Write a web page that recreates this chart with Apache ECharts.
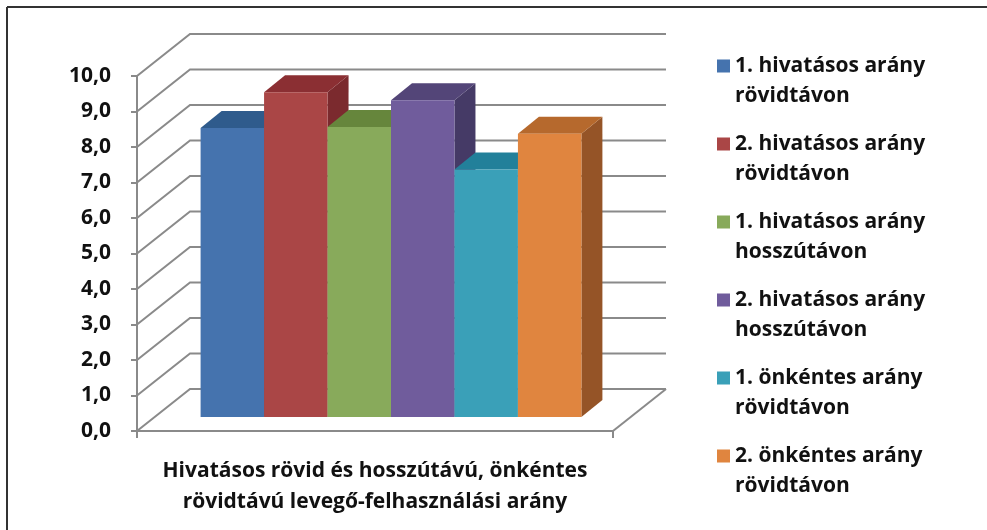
<!DOCTYPE html>
<html>
<head>
<meta charset="utf-8">
<script src="https://cdn.jsdelivr.net/npm/echarts@6/dist/echarts.min.js"></script>
<style>
html,body{margin:0;padding:0;background:#fff;}
#chart{width:987px;height:530px;}
</style>
</head>
<body>
<div id="chart"></div>
<script>
// ---- data ----
const category = ['Hivatásos rövid és hosszútávú, önkéntes\nrövidtávú levegő-felhasználási arány'];
const seriesNames = [
  '1. hivatásos arány rövidtávon',
  '2. hivatásos arány rövidtávon',
  '1. hivatásos arány hosszútávon',
  '2. hivatásos arány hosszútávon',
  '1. önkéntes arány rövidtávon',
  '2. önkéntes arány rövidtávon'
];
const seriesValues = [8.14, 9.15, 8.17, 8.92, 6.97, 7.98];
const yTicks = [0, 1, 2, 3, 4, 5, 6, 7, 8, 9, 10];

// ---- styles ----
const frontColors = ['#4573ae', '#aa4646', '#88aa5b', '#705c9c', '#3aa0b8', '#e0853f'];
const topColors   = ['#2f5b8c', '#8b2f33', '#66863c', '#534578', '#22809a', '#b6692d'];
const sideColors  = ['#2b4f7a', '#7b2a2e', '#5a7634', '#453a66', '#1f6f85', '#955427'];
const FONT = '"Open Sans"';
const GRIDCOL = '#8a8a8a';
const WALL_DX = 53, WALL_DY = -42;   // depth of the wall
const BAR_FX = 16, BAR_FY = -14;     // bars' front plane offset
const BAR_DX = 21, BAR_DY = -17;     // bars' depth
const GROUP_RATIO = 0.8;
// legend marker: 13px square at the top of a 13x43 box (aligns with first text line)
const LEGEND_ICON = 'path://M0,0L13,0L13,13L0,13Z M0,43L0.01,43';

const chart = echarts.init(document.getElementById('chart'), null, {renderer: 'canvas'});

function wallRender(params, api) {
  const v = api.value(1);
  const p = api.coord([0, v]);
  const xL = params.coordSys.x;
  const xR = xL + params.coordSys.width;
  const children = [{
    type: 'polyline',
    shape: {points: [[xL, p[1]], [xL + WALL_DX, p[1] + WALL_DY], [xR + WALL_DX, p[1] + WALL_DY]]},
    style: {stroke: GRIDCOL, lineWidth: 2, fill: null}
  }];
  if (v === yTicks[0]) {
    children.push({
      type: 'line',
      shape: {x1: xR, y1: p[1], x2: xR + WALL_DX, y2: p[1] + WALL_DY},
      style: {stroke: GRIDCOL, lineWidth: 2}
    });
  }
  return {type: 'group', children: children};
}

function barRender(idx) {
  return function (params, api) {
    const band = api.size([1, 0])[0];
    const base = api.coord([api.value(0), 0]);
    const topP = api.coord([api.value(0), api.value(1)]);
    const groupW = band * GROUP_RATIO;
    const w = groupW / seriesValues.length;
    const x0 = base[0] - groupW / 2 + idx * w + BAR_FX;
    const yb = base[1] + BAR_FY;
    const yt = topP[1] + BAR_FY;
    return {
      type: 'group',
      children: [
        {type: 'polygon', shape: {points: [[x0 + w, yt], [x0 + w + BAR_DX, yt + BAR_DY], [x0 + w + BAR_DX, yb + BAR_DY], [x0 + w, yb]]},
         style: {fill: sideColors[idx]}},
        {type: 'polygon', shape: {points: [[x0, yt], [x0 + BAR_DX, yt + BAR_DY], [x0 + w + BAR_DX, yt + BAR_DY], [x0 + w, yt]]},
         style: {fill: topColors[idx]}},
        {type: 'rect', shape: {x: x0, y: yt, width: w, height: yb - yt},
         style: {fill: frontColors[idx]}}
      ]
    };
  };
}

const series = [{
  type: 'custom',
  name: '_wall',
  silent: true,
  renderItem: wallRender,
  data: yTicks.map(v => [0, v]),
  z: 1
}];
seriesNames.forEach((name, i) => {
  series.push({
    type: 'custom',
    name: name,
    renderItem: barRender(i),
    itemStyle: {color: frontColors[i]},
    data: [[0, seriesValues[i]]],
    z: 2
  });
});

chart.setOption({
  backgroundColor: '#ffffff',
  animation: false,
  grid: {left: 137, top: 76, width: 476, height: 355},
  xAxis: {
    type: 'category',
    data: category,
    axisLine: {show: true, lineStyle: {color: GRIDCOL, width: 2}},
    axisTick: {show: true, length: 7, lineStyle: {color: GRIDCOL, width: 2}},
    axisLabel: {
      color: '#111', fontFamily: FONT, fontWeight: 'bold', fontSize: 21,
      lineHeight: 31, margin: 25, interval: 0
    },
    splitLine: {show: false}
  },
  yAxis: {
    type: 'value', min: 0, max: 10, interval: 1,
    axisLine: {show: true, lineStyle: {color: GRIDCOL, width: 2}},
    axisTick: {show: true, length: 6, lineStyle: {color: GRIDCOL, width: 2}},
    axisLabel: {
      color: '#111', fontFamily: FONT, fontWeight: 'bold', fontSize: 21, margin: 26,
      formatter: v => v.toFixed(1).replace('.', ',')
    },
    splitLine: {show: false}
  },
  legend: {
    data: seriesNames,
    orient: 'vertical',
    left: 712, top: 46,
    icon: LEGEND_ICON,
    itemWidth: 13, itemHeight: 43,
    itemGap: 18,
    formatter: n => n.replace('arány ', 'arány\n'),
    textStyle: {
      color: '#111', fontFamily: FONT, fontWeight: 'bold', fontSize: 21,
      lineHeight: 30
    }
  },
  graphic: [
    {type: 'line', shape: {x1: 7, y1: 7, x2: 987, y2: 7}, style: {stroke: '#333', lineWidth: 2}},
    {type: 'line', shape: {x1: 7, y1: 7, x2: 7, y2: 530}, style: {stroke: '#333', lineWidth: 2}}
  ],
  series: series
});
</script>
</body>
</html>
